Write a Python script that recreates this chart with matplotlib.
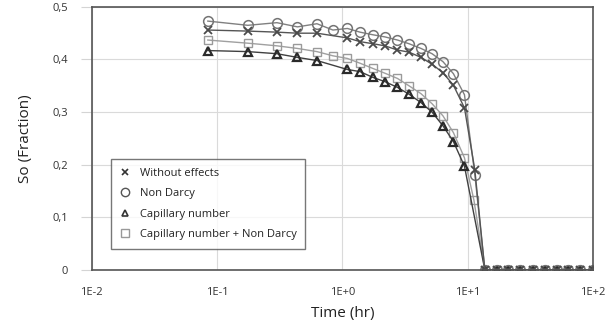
import matplotlib
matplotlib.use("Agg")
import matplotlib.pyplot as plt
from matplotlib.lines import Line2D
import numpy as np

plt.rcParams['font.family'] = ['Open Sans', 'DejaVu Sans']

# zero tail shared by all series (hr)
t_zero = [13.7, 17.0, 21.1, 26.1, 33.2, 41.4, 51.3, 63.1, 78.7, 99.6]

# Without effects
t_we = [0.0843, 0.176, 0.300, 0.438, 0.626, 1.096, 1.38, 1.75, 2.18, 2.75, 3.40,
        4.24, 5.19, 6.34, 7.69, 9.42, 11.4] + t_zero
so_we = [0.456, 0.454, 0.452, 0.450, 0.450, 0.441, 0.434, 0.430, 0.426, 0.418, 0.414,
         0.404, 0.391, 0.375, 0.351, 0.308, 0.190] + [0] * 10

# Non Darcy
t_nd = [0.0843, 0.176, 0.300, 0.438, 0.626, 0.840, 1.096, 1.38, 1.75, 2.18, 2.75, 3.40,
        4.24, 5.19, 6.34, 7.69, 9.42, 11.4] + t_zero
so_nd = [0.473, 0.465, 0.470, 0.462, 0.468, 0.456, 0.459, 0.452, 0.447, 0.443, 0.437, 0.430,
         0.421, 0.411, 0.396, 0.373, 0.333, 0.181] + [0] * 10

# Capillary number
t_cn = [0.0843, 0.176, 0.300, 0.438, 0.626, 1.096, 1.38, 1.75, 2.18, 2.75, 3.40,
        4.24, 5.19, 6.34, 7.69, 9.42] + t_zero
so_cn = [0.417, 0.415, 0.411, 0.404, 0.398, 0.381, 0.377, 0.366, 0.358, 0.347, 0.334,
         0.318, 0.300, 0.274, 0.244, 0.197] + [0] * 10

# Capillary number + Non Darcy
t_cnd = [0.0843, 0.176, 0.300, 0.438, 0.626, 0.840, 1.096, 1.38, 1.75, 2.18, 2.75, 3.40,
         4.24, 5.19, 6.34, 7.69, 9.42, 11.2] + t_zero
so_cnd = [0.437, 0.431, 0.426, 0.421, 0.415, 0.407, 0.402, 0.393, 0.383, 0.374, 0.364, 0.350,
          0.335, 0.316, 0.293, 0.261, 0.213, 0.133] + [0] * 10

labels = ['Without effects', 'Non Darcy', 'Capillary number', 'Capillary number + Non Darcy']
xticks = [0.01, 0.1, 1, 10, 100]
xticklabels = ['1E-2', '1E-1', '1E+0', '1E+1', '1E+2']
yticks = [0, 0.1, 0.2, 0.3, 0.4, 0.5]
yticklabels = ['0', '0,1', '0,2', '0,3', '0,4', '0,5']

fig = plt.figure(figsize=(6.12, 3.28), dpi=100)
ax = fig.add_axes([0.150, 0.177, 0.819, 0.802])

ax.plot(t_cnd, so_cnd, color='#a0a0a0', lw=1, marker='s', ms=6, mfc='none', mec='#9a9a9a', mew=1)
ax.plot(t_cn, so_cn, color='#404040', lw=1, marker='^', ms=5.8, mfc='none', mec='#2a2a2a', mew=1.6)
ax.plot(t_nd, so_nd, color='#808080', lw=1, marker='o', ms=7, mfc='none', mec='#747474', mew=1.1)
ax.plot(t_we, so_we, color='#555555', lw=1, marker='x', ms=6, mec='#4a4a4a', mew=1.3)

ax.set_xscale('log')
ax.set_xlim(0.01, 100)
ax.set_ylim(0, 0.5)
ax.set_xticks(xticks)
ax.set_xticklabels(xticklabels)
ax.xaxis.set_minor_locator(plt.NullLocator())
ax.set_yticks(yticks)
ax.set_yticklabels(yticklabels)
ax.tick_params(axis='x', length=0, pad=12, labelsize=8, colors='#333333')
ax.tick_params(axis='y', length=8, width=0.8, color='#d4d4d4', pad=9, labelsize=8, labelcolor='#333333')
ax.grid(True, color='#dadada', lw=0.8)
ax.set_axisbelow(True)
for s in ax.spines.values():
    s.set_color('#555555')
    s.set_linewidth(1.2)

ax.set_xlabel('Time (hr)', fontsize=11, labelpad=6, color='#222222')
ax.set_ylabel('So (Fraction)', fontsize=11, labelpad=14, color='#222222')

handles = [
    Line2D([], [], ls='none', marker='x', ms=5, mec='#333333', mew=1.2),
    Line2D([], [], ls='none', marker='o', ms=6, mfc='none', mec='#555555', mew=1),
    Line2D([], [], ls='none', marker='^', ms=5, mfc='none', mec='#333333', mew=1.2),
    Line2D([], [], ls='none', marker='s', ms=6, mfc='none', mec='#999999', mew=1),
]
leg = ax.legend(handles, labels, loc='lower left', bbox_to_anchor=(0.038, 0.08),
                fontsize=8, frameon=True, fancybox=False, handlelength=1.0,
                handletextpad=0.8, labelspacing=0.85, borderpad=0.8, borderaxespad=0)
leg.get_frame().set_edgecolor('#555555')
leg.get_frame().set_linewidth(1)
for txt in leg.get_texts():
    txt.set_color('#222222')

fig.savefig('out.png', dpi=100)
